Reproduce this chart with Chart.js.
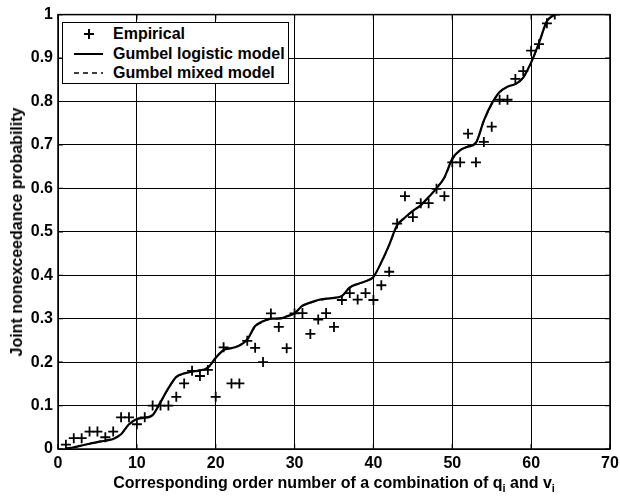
<!DOCTYPE html>
<html>
<head>
<meta charset="utf-8">
<script src="https://cdn.jsdelivr.net/npm/chart.js@4/dist/chart.umd.min.js"></script>
<style>
  body { margin: 0; background: #fff; }
  #wrap { position: relative; width: 620px; height: 497px; font-family: "Liberation Sans", Arial, sans-serif; color: #000; }
  #chart { position: absolute; left: 0; top: 0; }
  #legend { position: absolute; left: 62px; top: 22px; width: 225px; height: 60px; border: 1px solid #000; background: #fff;
            font-size: 16px; font-weight: bold; }
  #legend .row { position: absolute; left: 0; height: 20px; line-height: 20px; }
  #legend svg { position: absolute; left: 9px; top: 2px; }
  #legend span { position: absolute; left: 50px; white-space: nowrap; }
  #xtitle { position: absolute; left: 58px; width: 552px; top: 474px; text-align: center; font-size: 16px; font-weight: bold; white-space: nowrap; }
  #xtitle sub { font-size: 11px; vertical-align: -4px; line-height: 0; }
  #ytitle { position: absolute; left: 17px; top: 232px; transform: translate(-50%, -50%) rotate(-90deg); font-size: 16px; font-weight: bold; white-space: nowrap; }
</style>
</head>
<body>
<div id="wrap">
  <canvas id="chart" width="620" height="497"></canvas>
  <div id="legend">
    <div class="row" style="top:1px"><svg width="34" height="16"><path d="M17 3 V13 M12 8 H22" stroke="#000" stroke-width="2"/></svg><span>Empirical</span></div>
    <div class="row" style="top:21px"><svg width="34" height="16"><path d="M2 8 H31" stroke="#000" stroke-width="2"/></svg><span>Gumbel logistic model</span></div>
    <div class="row" style="top:40px"><svg width="34" height="16"><path d="M2 8 H31" stroke="#000" stroke-width="1.6" stroke-dasharray="5,4"/></svg><span>Gumbel mixed model</span></div>
  </div>
  <div id="ytitle">Joint nonexceedance probability</div>
  <div id="xtitle">Corresponding order number of a combination of q<sub>i</sub> and v<sub>i</sub></div>
</div>
<script>
// order numbers of the combinations
const orderNumber = [1, 2, 3, 4, 5, 6, 7, 8, 9, 10, 11, 12, 13, 14, 15, 16, 17, 18, 19, 20,
  21, 22, 23, 24, 25, 26, 27, 28, 29, 30, 31, 32, 33, 34, 35, 36, 37, 38, 39, 40,
  41, 42, 43, 44, 45, 46, 47, 48, 49, 50, 51, 52, 53, 54, 55, 56, 57, 58, 59, 60,
  61, 62, 63];

// empirical joint nonexceedance probability
const empirical = [0.010, 0.025, 0.025, 0.040, 0.040, 0.027, 0.040, 0.073, 0.073, 0.057,
  0.073, 0.100, 0.100, 0.100, 0.120, 0.151, 0.180, 0.168, 0.182, 0.120,
  0.234, 0.151, 0.151, 0.249, 0.233, 0.200, 0.312, 0.281, 0.232, 0.312,
  0.313, 0.265, 0.298, 0.313, 0.281, 0.343, 0.359, 0.344, 0.359, 0.343,
  0.377, 0.408, 0.519, 0.582, 0.534, 0.566, 0.566, 0.599, 0.582, 0.660,
  0.660, 0.726, 0.660, 0.707, 0.742, 0.804, 0.804, 0.852, 0.870, 0.917,
  0.932, 0.980, 1.000];

// Gumbel logistic model
const logisticModel = [0.001, 0.004, 0.008, 0.012, 0.016, 0.019, 0.023, 0.034, 0.057, 0.069,
  0.072, 0.078, 0.108, 0.140, 0.166, 0.174, 0.178, 0.181, 0.187, 0.210,
  0.228, 0.232, 0.238, 0.252, 0.283, 0.294, 0.300, 0.300, 0.305, 0.312,
  0.330, 0.337, 0.343, 0.346, 0.348, 0.352, 0.372, 0.380, 0.386, 0.396,
  0.430, 0.470, 0.515, 0.533, 0.548, 0.561, 0.580, 0.600, 0.625, 0.668,
  0.688, 0.696, 0.705, 0.756, 0.795, 0.822, 0.834, 0.840, 0.855, 0.890,
  0.935, 0.985, 1.000];

// Gumbel mixed model
const mixedModel = [0.001, 0.004, 0.008, 0.012, 0.016, 0.020, 0.024, 0.035, 0.056, 0.068,
  0.072, 0.079, 0.107, 0.139, 0.165, 0.173, 0.178, 0.182, 0.188, 0.209,
  0.227, 0.233, 0.239, 0.253, 0.281, 0.293, 0.299, 0.301, 0.306, 0.313,
  0.329, 0.336, 0.342, 0.345, 0.348, 0.353, 0.371, 0.379, 0.386, 0.397,
  0.429, 0.469, 0.513, 0.532, 0.548, 0.562, 0.579, 0.601, 0.624, 0.666,
  0.687, 0.697, 0.706, 0.754, 0.793, 0.821, 0.834, 0.841, 0.856, 0.889,
  0.934, 0.984, 1.000];

const xTicks = [0, 10, 20, 30, 40, 50, 60, 70];
const yTicks = [0, 0.1, 0.2, 0.3, 0.4, 0.5, 0.6, 0.7, 0.8, 0.9, 1];

const toPoints = (ys) => orderNumber.map((x, i) => ({ x: x, y: ys[i] }));

// box around the axes plus short inward ticks on every side (matlab look)
const frameTicks = {
  id: "frameTicks",
  afterDraw(chart) {
    const c = chart.ctx, a = chart.chartArea;
    const xs = chart.scales.x, ys = chart.scales.y;
    c.save();
    c.strokeStyle = "#000";
    c.lineWidth = 1.5;
    c.strokeRect(a.left, a.top, a.right - a.left, a.bottom - a.top);
    c.lineWidth = 1.2;
    c.beginPath();
    xTicks.forEach((v) => {
      const px = xs.getPixelForValue(v);
      c.moveTo(px, a.bottom); c.lineTo(px, a.bottom - 5);
      c.moveTo(px, a.top); c.lineTo(px, a.top + 5);
    });
    yTicks.forEach((v) => {
      const py = ys.getPixelForValue(v);
      c.moveTo(a.left, py); c.lineTo(a.left + 5, py);
      c.moveTo(a.right, py); c.lineTo(a.right - 5, py);
    });
    c.stroke();
    c.restore();
  }
};

const tickFont = { family: "'Liberation Sans', Arial, sans-serif", size: 16, weight: "bold" };

new Chart(document.getElementById("chart"), {
  type: "scatter",
  data: {
    datasets: [
      {
        label: "Empirical",
        data: toPoints(empirical),
        showLine: false,
        pointStyle: "cross",
        pointRadius: 5,
        pointBorderWidth: 1.8,
        borderColor: "#000",
        backgroundColor: "#000",
      },
      {
        label: "Gumbel logistic model",
        data: toPoints(logisticModel),
        showLine: true,
        pointRadius: 0,
        borderColor: "#000",
        borderWidth: 2.2,
        cubicInterpolationMode: "monotone",
      },
      {
        label: "Gumbel mixed model",
        data: toPoints(mixedModel),
        showLine: true,
        pointRadius: 0,
        borderColor: "#000",
        borderWidth: 1.4,
        borderDash: [6, 4],
        cubicInterpolationMode: "monotone",
      },
    ],
  },
  options: {
    responsive: false,
    animation: false,
    layout: { padding: { top: 14, right: 10, left: 0, bottom: 0 } },
    plugins: { legend: { display: false }, tooltip: { enabled: false } },
    scales: {
      x: {
        type: "linear",
        min: 0,
        max: 70,
        afterBuildTicks: (s) => { s.ticks = xTicks.map((v) => ({ value: v })); },
        afterFit: (s) => { s.height = 48; s.paddingLeft = 0; s.paddingRight = 0; },
        grid: { color: "#000", lineWidth: 1, borderDash: [1, 2], drawTicks: false },
        border: { display: false },
        ticks: { color: "#000", font: tickFont, padding: 5, maxRotation: 0 },
      },
      y: {
        type: "linear",
        min: 0,
        max: 1,
        afterBuildTicks: (s) => { s.ticks = yTicks.map((v) => ({ value: v })); },
        afterFit: (s) => { s.width = 58; },
        grid: { color: "#000", lineWidth: 1, borderDash: [1, 2], drawTicks: false },
        border: { display: false },
        ticks: { color: "#000", font: tickFont, padding: 5, callback: (v) => String(+v.toFixed(1)) },
      },
    },
  },
  plugins: [frameTicks],
});
</script>
</body>
</html>
